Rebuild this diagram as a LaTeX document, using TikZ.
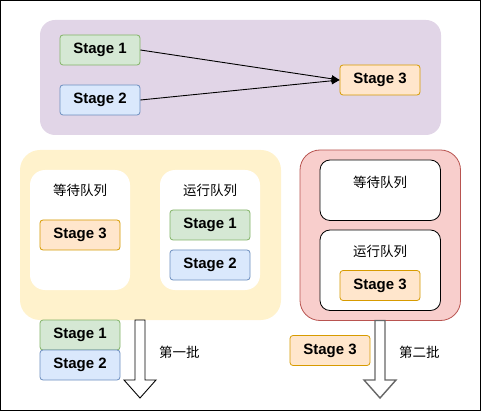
\documentclass[tikz,border=0pt]{standalone}
\usepackage{fontspec}
\setmainfont{Liberation Sans}
\newfontfamily\cjk{Noto Sans CJK SC}
\usetikzlibrary{arrows.meta}
\definecolor{purplebg}{HTML}{E1D5E7}
\definecolor{yellowbg}{HTML}{FFF2CC}
\definecolor{redbg}{HTML}{F8CECC}
\definecolor{redln}{HTML}{B85450}
\definecolor{greenbg}{HTML}{D5E8D4}
\definecolor{greenln}{HTML}{82B366}
\definecolor{bluebg}{HTML}{DAE8FC}
\definecolor{blueln}{HTML}{6C8EBF}
\definecolor{orangebg}{HTML}{FFE6CC}
\definecolor{orangeln}{HTML}{D79B00}
\tikzset{
  stagebox/.style={rounded corners=3pt, minimum width=80pt, minimum height=30pt, inner sep=0pt, font=\fontsize{15}{17}\selectfont\bfseries, line width=0.8pt},
  s1/.style={stagebox, fill=greenbg, draw=greenln},
  s2/.style={stagebox, fill=bluebg, draw=blueln},
  s3/.style={stagebox, fill=orangebg, draw=orangeln},
  cjklabel/.style={font=\cjk\fontsize{13.5}{15}\selectfont, inner sep=0pt},
  link/.style={-{Triangle[length=8pt,width=7pt]}, line width=0.9pt},
}
\begin{document}
\begin{tikzpicture}[x=1pt,y=-1pt]
\useasboundingbox (0,0) rectangle (481,411);
\draw[line width=1.2pt] (0.6,0.6) rectangle (480.4,410.4);
% top purple group
\fill[purplebg, rounded corners=15pt] (40,20) rectangle (441,135);
\node[s1] (a1) at (100,50) {Stage 1};
\node[s2] (a2) at (100,100) {Stage 2};
\node[s3] (a3) at (380,80) {Stage 3};
\draw[link] (a1.east) -- (a3.west);
\draw[link] (a2.east) -- (a3.west);
% yellow group
\fill[yellowbg, rounded corners=20pt] (20,150) rectangle (281,320);
\fill[white, rounded corners=15pt] (30,170) rectangle (130,290);
\fill[white, rounded corners=15pt] (160,170) rectangle (260,290);
\node[cjklabel] (w1) at (80,190) {等待队列};
\node[cjklabel] (r1) at (210,190) {运行队列};
\node[s3] (b3) at (80,235) {Stage 3};
\node[s1] (b1) at (210,225) {Stage 1};
\node[s2] (b2) at (210,265) {Stage 2};
% red group
\filldraw[fill=redbg, draw=redln, line width=0.8pt, rounded corners=20pt] (300,150) rectangle (460.5,320.5);
\filldraw[fill=white, draw=black, line width=0.8pt, rounded corners=10pt] (320,160) rectangle (440.5,220.5);
\filldraw[fill=white, draw=black, line width=0.8pt, rounded corners=10pt] (320,230) rectangle (440.5,310.5);
\node[cjklabel] (w2) at (380,182) {等待队列};
\node[cjklabel] (r2) at (380,251) {运行队列};
\node[s3] (c3) at (380,285.5) {Stage 3};
% first batch
\node[s1] (d1) at (80,335) {Stage 1};
\node[s2] (d2) at (80,365) {Stage 2};
\filldraw[fill=white, draw=black, line width=0.9pt] (135,320) -- (145,320) -- (145,380) -- (156,380) -- (140,398) -- (124,380) -- (135,380) -- cycle;
\node[cjklabel, anchor=west] (t1) at (159,352) {第一批};
% second batch
\node[s3] (e3) at (330,350.5) {Stage 3};
\filldraw[fill=white, draw=black!60, line width=1.4pt] (375,320.5) -- (385,320.5) -- (385,380) -- (396,380) -- (380,398) -- (364,380) -- (375,380) -- cycle;
\node[cjklabel, anchor=west] (t2) at (399,352) {第二批};
\end{tikzpicture}
\end{document}
